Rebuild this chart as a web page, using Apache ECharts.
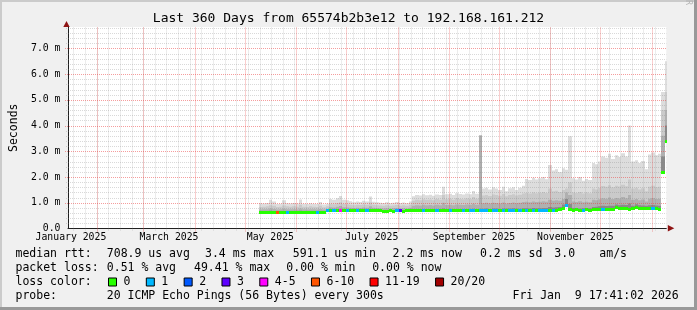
<!DOCTYPE html>
<html><head><meta charset="utf-8">
<script src="https://cdn.jsdelivr.net/npm/echarts@6/dist/echarts.min.js"></script>
<style>html,body{margin:0;padding:0;background:#f0f0f0}#c{width:697px;height:310px}</style>
</head><body><div id="c"></div>
<script>
// ---------------- data ----------------
const titleText = 'Last 360 Days from 65574b2b3e12 to 192.168.161.212';
// x axis: days since graph start (Tue Jan 14 2025 17:41:02) .. 360
const xLabelDays = [1.76, 60.76, 121.76, 182.76, 244.26, 305.26];
const xLabels = ['January 2025','March 2025','May 2025','July 2025','September 2025','November 2025'];
const monthStartDays = [17.263, 45.263, 76.263, 106.263, 137.263, 167.263, 198.263, 229.263, 259.263, 290.263, 320.263, 351.263];
const firstWeekLineDay = 3.263;
const yTicks = [0, 1, 2, 3, 4, 5, 6, 7];
const yMax = 7.83;
// smoke/median bins: 2-day bins starting at day 115
const dataStartDay = 115;
const binWidthDays = 2;
const median = [
 0.66,0.65,0.65,0.64,0.65,0.65,0.64,0.65,0.65,0.65,
 0.64,0.65,0.65,0.65,0.64,0.65,0.65,0.64,0.65,0.65,
 0.70,0.72,0.73,0.72,0.72,0.71,0.72,0.71,0.72,0.71,
 0.71,0.72,0.71,0.71,0.70,0.71,0.70,0.69,0.68,0.70,
 0.69,0.71,0.70,0.68,0.70,0.71,0.71,0.70,0.71,0.71,
 0.71,0.70,0.71,0.72,0.71,0.71,0.70,0.71,0.71,0.72,
 0.71,0.71,0.70,0.71,0.71,0.72,0.71,0.71,0.71,0.70,
 0.71,0.71,0.70,0.71,0.72,0.71,0.71,0.71,0.70,0.71,
 0.71,0.71,0.72,0.71,0.71,0.71,0.72,0.73,0.72,0.73,
 0.74,0.80,0.90,0.76,0.73,0.74,0.72,0.73,0.74,0.73,
 0.74,0.75,0.76,0.76,0.77,0.76,0.77,0.82,0.78,0.79,
 0.80,0.77,0.78,0.84,0.80,0.79,0.80,0.79,0.78,0.78,
 0.76,2.18,3.40];
const p60 = [
 0.68,0.68,0.68,0.69,0.68,0.68,0.67,0.68,0.68,0.68,
 0.67,0.68,0.69,0.68,0.67,0.68,0.68,0.67,0.68,0.68,
 0.73,0.75,0.76,0.75,0.76,0.74,0.75,0.74,0.75,0.74,
 0.74,0.75,0.74,0.75,0.73,0.74,0.73,0.72,0.71,0.73,
 0.72,0.74,0.73,0.71,0.73,0.74,0.75,0.74,0.75,0.75,
 0.75,0.74,0.75,0.76,0.75,0.78,0.74,0.75,0.75,0.76,
 0.75,0.75,0.74,0.75,0.77,0.76,0.77,0.77,0.78,0.76,
 0.78,0.78,0.76,0.78,0.78,0.78,0.79,0.78,0.77,0.79,
 0.79,0.78,0.80,0.79,0.79,0.80,0.80,0.84,0.82,0.83,
 0.84,0.93,1.15,0.95,0.80,0.80,0.78,0.79,0.80,0.79,
 0.84,0.85,0.86,0.88,0.87,0.88,0.88,0.93,0.90,0.92,
 0.91,0.97,0.88,0.94,0.90,0.89,0.88,0.90,0.91,0.89,
 0.88,2.80,4.00];
const p75 = [
 0.74,0.75,0.75,0.78,0.76,0.74,0.75,0.77,0.75,0.75,
 0.75,0.74,0.78,0.75,0.74,0.75,0.75,0.74,0.76,0.74,
 0.76,0.83,0.82,0.85,0.87,0.83,0.82,0.81,0.80,0.81,
 0.80,0.82,0.81,0.86,0.81,0.80,0.79,0.78,0.79,0.78,
 0.79,0.80,0.78,0.79,0.78,0.81,0.88,0.90,0.89,0.92,
 0.90,0.91,0.89,0.92,0.90,1.00,0.91,0.92,0.90,0.93,
 0.92,0.91,0.93,0.92,0.96,0.92,3.60,0.98,1.00,0.97,
 1.00,0.99,0.97,1.01,0.96,0.99,1.01,0.98,1.00,1.03,
 1.04,1.02,1.05,1.03,1.04,1.06,1.04,1.12,1.08,1.10,
 1.08,1.15,1.40,1.30,1.05,1.03,1.06,1.02,1.04,1.02,
 1.12,1.10,1.14,1.18,1.16,1.20,1.15,1.19,1.17,1.22,
 1.18,1.30,1.12,1.15,1.10,1.13,1.05,1.16,1.19,1.15,
 1.16,3.60,4.60];
const p90 = [
 0.84,0.85,0.86,0.90,0.88,0.84,0.85,0.89,0.86,0.85,
 0.86,0.85,0.92,0.85,0.84,0.86,0.85,0.84,0.88,0.83,
 0.86,0.95,0.94,0.98,1.02,0.95,0.94,0.92,0.90,0.92,
 0.91,0.93,0.92,1.02,0.92,0.90,0.89,0.88,0.90,0.88,
 0.89,0.91,0.88,0.90,0.88,0.92,1.08,1.12,1.10,1.14,
 1.12,1.13,1.10,1.15,1.12,1.30,1.14,1.16,1.12,1.18,
 1.15,1.14,1.17,1.15,1.22,1.16,3.62,1.28,1.30,1.26,
 1.32,1.30,1.27,1.34,1.25,1.30,1.33,1.28,1.31,1.36,
 1.38,1.36,1.40,1.37,1.39,1.42,1.38,1.55,1.45,1.47,
 1.42,1.50,1.55,1.80,1.40,1.38,1.42,1.36,1.40,1.37,
 1.55,1.52,1.58,1.65,1.62,1.68,1.60,1.66,1.63,1.70,
 1.64,1.90,1.55,1.58,1.52,1.56,1.45,1.62,1.66,1.60,
 1.62,4.60,5.30];
const hi = [
 0.98,0.97,0.99,1.12,1.05,0.95,0.96,1.10,0.98,0.97,
 0.99,0.97,1.13,0.96,0.95,0.98,0.96,0.95,1.03,0.93,
 0.96,1.15,1.12,1.18,1.26,1.12,1.10,1.06,1.02,1.05,
 1.03,1.08,1.05,1.24,1.04,1.02,1.00,0.99,1.02,0.98,
 1.00,1.03,0.99,1.01,0.98,1.05,1.25,1.30,1.28,1.33,
 1.29,1.31,1.27,1.32,1.30,1.62,1.33,1.35,1.30,1.37,
 1.34,1.32,1.36,1.33,1.46,1.35,3.63,1.55,1.58,1.52,
 1.60,1.55,1.50,1.62,1.45,1.56,1.60,1.50,1.58,1.66,
 1.92,1.88,1.97,1.90,1.95,2.00,1.91,2.47,2.25,2.30,
 2.20,2.34,2.28,3.58,1.95,1.90,2.00,1.86,1.92,1.88,
 2.55,2.50,2.60,2.80,2.75,2.90,2.70,2.85,2.78,2.92,
 2.80,4.00,2.60,2.65,2.55,2.62,2.30,2.88,2.95,2.85,
 2.90,5.30,6.50];
// loss class index per bin (index into lossNames)
const lossClass = [
 0,0,0,0,0,5,0,0,1,0,
 0,0,0,0,0,0,0,1,0,0,
 1,0,1,0,4,0,1,0,0,1,
 0,0,1,0,0,0,0,0,0,0,
 0,1,3,0,0,0,0,0,0,1,
 0,0,0,1,0,0,0,1,0,0,
 0,1,0,1,1,0,1,1,1,0,
 1,1,0,1,0,1,1,0,1,0,
 1,0,1,0,1,1,1,0,1,0,
 0,0,1,0,0,0,0,1,0,0,
 0,0,0,1,0,0,0,0,0,0,
 0,0,0,0,0,0,0,0,1,0,
 0,0,0];
const lossNames = ['0','1','2','3','4-5','6-10','11-19','20/20'];
const lossColors = ['#26ff00','#00b8ff','#0059ff','#5e00ff','#ff00ff','#ff5500','#ff0000','#a10000'];
const legendLines = [
 {y: 254.3, parts: [[15.5,'median rtt:'],[106.8,'708.9 us avg'],[205,'3.4 ms max'],[292.8,'591.1 us min'],[392.6,'2.2 ms now'],[480,'0.2 ms sd'],[554.3,'3.0'],[599.3,'am/s']]},
 {y: 268.3, parts: [[15.5,'packet loss:'],[106.8,'0.51 % avg'],[194,'49.41 % max'],[286.3,'0.00 % min'],[372.2,'0.00 % now']]},
 {y: 282.4, parts: [[15.5,'loss color:']]},
 {y: 296.5, parts: [[15.5,'probe:'],[106.8,'20 ICMP Echo Pings (56 Bytes) every 300s'],[512.5,'Fri Jan  9 17:41:02 2026']]}
];

// ---------------- layout ----------------
const G = {left: 66.3, top: 27, width: 600, height: 201.5};
const MONO = 'DejaVu Sans Mono';
const chart = echarts.init(document.getElementById('c'), null, {renderer: 'canvas'});

const weekDays = [];
for (let d = firstWeekLineDay; d < 360; d += 7) weekDays.push(d);
const hLines = [];
for (let i = 1; i * 0.2 < yMax; i++) hLines.push([+(i * 0.2).toFixed(1), i % 5 === 0 ? 1 : 0]);
const vLines = weekDays.map(d => [d, 0]).concat(monthStartDays.map(d => [d, 1]));

const MAJ = 'rgba(235,60,60,0.5)';
const MIN = 'rgba(130,130,130,0.3)';

const smokeData = median.map((m, i) => [dataStartDay + i * binWidthDays, m, p60[i], p75[i], p90[i], hi[i]]);
const bandColors = [[5, '#dddddd'], [4, '#cacaca'], [3, '#b0b0b0'], [2, '#8a8a8a']];

const series = [];
series.push({
  type: 'custom', name: 'smoke', z: 2, silent: true, clip: true,
  data: smokeData,
  renderItem(params, api) {
    const d = api.value(0);
    const x0 = Math.round(api.coord([d, 0])[0]);
    const x1 = Math.round(api.coord([d + binWidthDays, 0])[0]);
    const yMed = api.coord([d, api.value(1)])[1];
    const children = bandColors.map(([idx, c]) => {
      const yT = api.coord([d, api.value(idx)])[1];
      return {type: 'rect', shape: {x: x0, y: yT, width: x1 - x0, height: Math.max(0, yMed - yT)}, style: {fill: c}};
    });
    return {type: 'group', children};
  }
});
series.push({
  type: 'custom', name: 'hgrid', z: 3, silent: true,
  data: hLines,
  renderItem(params, api) {
    const v = api.value(0), maj = api.value(1);
    const p0 = api.coord([0, v]), p1 = api.coord([360, v]);
    const y = Math.round(p0[1]) + 0.5;
    return {type: 'line', shape: {x1: p0[0] - (maj ? 3 : 2), y1: y, x2: p1[0], y2: y},
      style: {stroke: maj ? MAJ : MIN, lineWidth: 1, lineDash: [1, 1]}};
  }
});
series.push({
  type: 'custom', name: 'vgrid', z: 3, silent: true,
  data: vLines,
  renderItem(params, api) {
    const d = api.value(0), maj = api.value(1);
    const p0 = api.coord([d, 0]), p1 = api.coord([d, yMax]);
    const x = Math.round(p0[0]) + 0.5;
    return {type: 'line', shape: {x1: x, y1: p0[1] + (maj ? 3 : 2), x2: x, y2: p1[1]},
      style: {stroke: maj ? MAJ : MIN, lineWidth: 1, lineDash: [1, 1]}};
  }
});
lossNames.forEach((name, c) => {
  const data = [];
  median.forEach((m, i) => { if (lossClass[i] === c) data.push([dataStartDay + i * binWidthDays, m]); });
  series.push({
    type: 'custom', name, z: 4, silent: true, clip: true,
    itemStyle: {color: lossColors[c]},
    data,
    renderItem(params, api) {
      const d = api.value(0);
      const x0 = Math.round(api.coord([d, 0])[0]);
      const x1 = Math.round(api.coord([d + binWidthDays, 0])[0]);
      const yc = Math.round(api.coord([d, api.value(1)])[1]);
      return {type: 'rect', shape: {x: x0, y: yc - 1, width: x1 - x0, height: 3}, style: {fill: lossColors[c]}};
    }
  });
});

const graphic = [
  {type: 'rect', shape: {x: 0, y: 0, width: 697, height: 2}, style: {fill: '#cbcbcb'}, silent: true},
  {type: 'rect', shape: {x: 0, y: 0, width: 2, height: 310}, style: {fill: '#cbcbcb'}, silent: true},
  {type: 'rect', shape: {x: 0, y: 307, width: 697, height: 3}, style: {fill: '#999999'}, silent: true},
  {type: 'rect', shape: {x: 694, y: 0, width: 3, height: 310}, style: {fill: '#999999'}, silent: true},
  {type: 'text', x: 688.5, y: 5, rotation: -Math.PI / 2, silent: true,
   style: {text: 'RRDTOOL / TOBI OETIKER', font: '8.4px "DejaVu Sans Mono"', fill: '#b4b4b4', align: 'right', verticalAlign: 'middle'}},
  // axis arrows
  {type: 'polygon', silent: true, z: 10, shape: {points: [[G.left - 3, G.top], [G.left + 3.4, G.top], [G.left + 0.2, G.top - 6]]}, style: {fill: '#8f1414'}},
  {type: 'polygon', silent: true, z: 10, shape: {points: [[G.left + G.width + 1.5, 225], [G.left + G.width + 1.5, 231.4], [G.left + G.width + 8, 228.2]]}, style: {fill: '#8f1414'}}
];
legendLines.forEach(line => line.parts.forEach(([x, t]) => graphic.push({
  type: 'text', x, y: line.y, silent: true,
  style: {text: t, font: '11.5px "DejaVu Sans Mono"', fill: '#000', align: 'left', verticalAlign: 'middle'}
})));

chart.setOption({
  animation: false,
  backgroundColor: '#f0f0f0',
  title: {text: titleText, left: 'center', top: 12, padding: 0,
    textStyle: {fontFamily: MONO, fontSize: 13, fontWeight: 'normal', color: '#000'}},
  grid: {left: G.left, top: G.top, width: G.width, height: G.height, show: true, backgroundColor: '#ffffff', borderWidth: 0},
  legend: {left: 108, top: 276, padding: 0, itemWidth: 8, itemHeight: 8, itemGap: 15.4, icon: 'rect', selectedMode: false,
    textStyle: {fontFamily: MONO, fontSize: 11.5, color: '#000', padding: [0, 0, 0, 2]},
    data: lossNames.map((n, i) => ({name: n, icon: 'rect', itemStyle: {color: lossColors[i], borderColor: '#000', borderWidth: 1}}))},
  xAxis: {type: 'value', min: 0, max: 360, splitLine: {show: false},
    axisLine: {show: true, lineStyle: {color: '#202020', width: 1}},
    axisTick: {show: false},
    axisLabel: {customValues: xLabelDays, margin: 4, fontFamily: MONO, fontSize: 9.8, color: '#000',
      formatter: v => { const i = xLabelDays.findIndex(d => Math.abs(d - v) < 0.01); return i >= 0 ? xLabels[i] : ''; }}},
  yAxis: {type: 'value', min: 0, max: yMax, splitLine: {show: false},
    name: 'Seconds', nameLocation: 'middle', nameGap: 48, nameRotate: 90,
    nameTextStyle: {fontFamily: MONO, fontSize: 11.5, color: '#000'},
    axisLine: {show: true, lineStyle: {color: '#202020', width: 1}},
    axisTick: {show: false},
    axisLabel: {customValues: yTicks, margin: 7.5, fontFamily: MONO, fontSize: 9.8, color: '#000',
      formatter: v => { if (Math.abs(v - Math.round(v)) > 1e-6) return ''; return v === 0 ? '0.0' : v.toFixed(1) + ' m'; }}},
  graphic,
  series
});
</script></body></html>
